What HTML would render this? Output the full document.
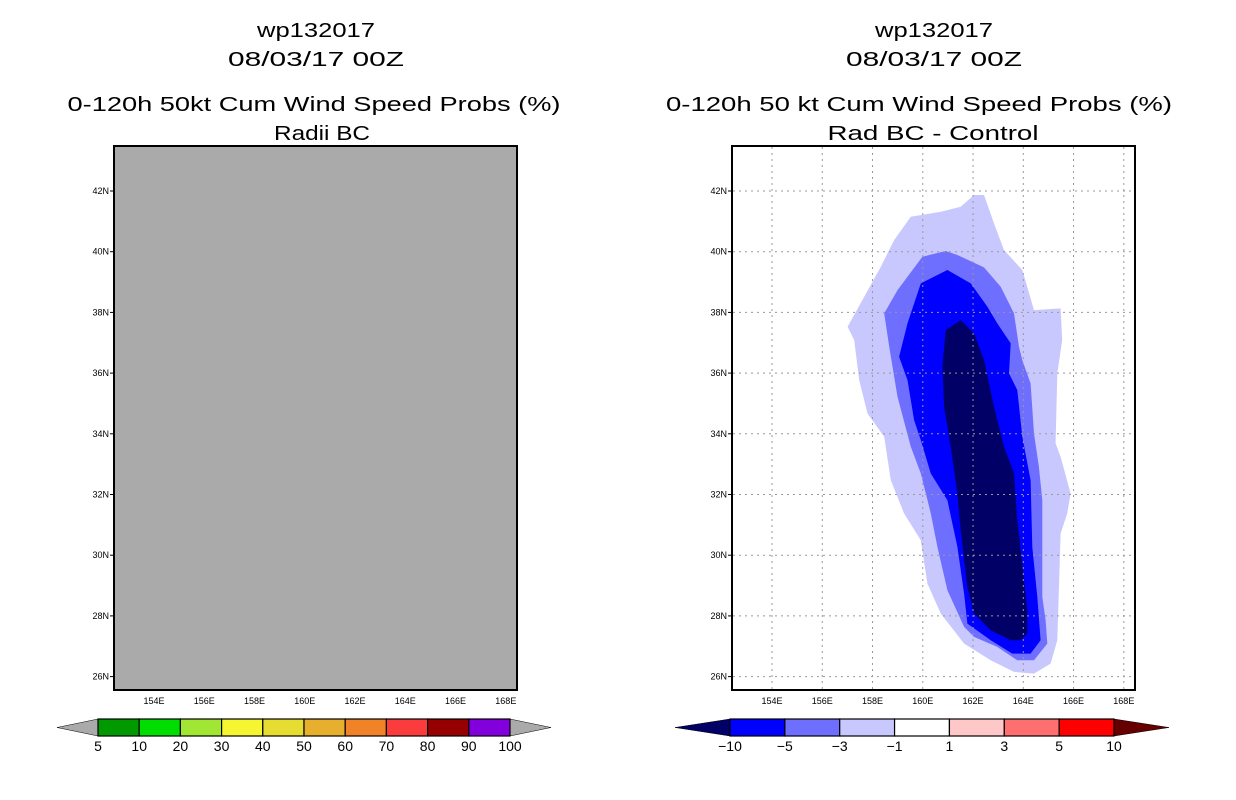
<!DOCTYPE html>
<html><head><meta charset="utf-8"><style>
body{margin:0;background:#fff;}
svg{display:block;font-family:"Liberation Sans",sans-serif;}
</style></head><body>
<svg id="chart" width="1236" height="800" viewBox="0 0 1236 800">
<rect width="1236" height="800" fill="#fff"/>
<g id="left"></g>
<g id="right"></g>
</svg>
<script>
const lonTicks=[154,156,158,160,162,164,166,168];
const latTicks=[26,28,30,32,34,36,38,40,42];
const leftLevels=["5","10","20","30","40","50","60","70","80","90","100"];
const leftColors=["#009900","#00dd00","#a0e632","#f5f532","#e6dc32","#e6af2d","#f08228","#fa3c3c","#960000","#8200dc"];
const rightLevels=["-10","-5","-3","-1","1","3","5","10"];
const rightColors=["#0000ff","#6f6fff","#c8c8ff","#ffffff","#ffc8c8","#ff6f6f","#ff0000"];
// contour polygons in [lon,lat]
const zl=(a)=>a.map(p=>[158+(p[0]-125)/75.5,42-(p[1]-33)/91]);
const contourLight=zl([[430,45],[460,45],[490,130],[520,210],[575,270],[610,390],[690,385],[695,480],[680,580],[675,790],[690,830],[720,940],[710,1000],[690,1060],[680,1380],[660,1450],[610,1480],[550,1475],[480,1440],[400,1390],[330,1300],[290,1210],[270,1080],[220,1000],[180,900],[160,770],[110,700],[85,600],[70,480],[50,440],[100,350],[150,260],[190,180],[240,110],[330,95],[390,80]]);
const contourMid=zl([[345,213],[380,225],[460,262],[510,320],[550,400],[565,500],[575,540],[600,610],[610,760],[625,860],[635,960],[635,1250],[645,1320],[650,1390],[610,1440],[560,1440],[500,1400],[430,1370],[400,1340],[350,1230],[320,1100],[300,1000],[270,880],[240,800],[200,650],[175,500],[160,400],[200,330],[275,230]]);
const contourBlue=zl([[350,270],[420,310],[470,380],[500,430],[540,490],[535,580],[560,630],[575,770],[600,900],[605,1100],[620,1250],[630,1380],[600,1420],[545,1420],[480,1380],[410,1330],[400,1240],[380,1100],[350,960],[300,880],[270,780],[250,720],[230,600],[205,530],[230,430],[270,310]]);
const contourDark=zl([[390,420],[430,460],[460,540],[490,680],[520,800],[550,880],[560,1020],[580,1200],[590,1290],[590,1360],[570,1380],[540,1380],[480,1350],[430,1300],[410,1220],[390,1050],[380,940],[360,800],[340,680],[335,560],[345,450]]);

const NS="http://www.w3.org/2000/svg";
function mk(parent,tag,attrs,text){const e=document.createElementNS(NS,tag);for(const k in attrs)e.setAttribute(k,attrs[k]);if(text!==undefined)e.textContent=text;parent.appendChild(e);return e;}
const PX=25.13, PY=30.35;
function panel(gid,x0,title3,title4,isRight){
  const g=document.getElementById(gid);
  const xs=lon=>x0+40+(lon-154)*PX;
  const ys=lat=>191+(42-lat)*PY;
  const cx=x0+202;
  const t1=mk(g,'text',{x:cx,y:37,'text-anchor':'middle','font-size':20,fill:'#000',textLength:118,lengthAdjust:'spacingAndGlyphs'},'wp132017');
  
  
  const t2=mk(g,'text',{x:cx,y:66,'text-anchor':'middle','font-size':20,fill:'#000',textLength:176,lengthAdjust:'spacingAndGlyphs'},'08/03/17 00Z');
  
  
  const t3=mk(g,'text',{x:cx+(isRight?-15:-2),y:111,'text-anchor':'middle','font-size':20,fill:'#000',textLength:isRight?506:493,lengthAdjust:'spacingAndGlyphs'},title3);
  
  
  const t4=mk(g,'text',{x:cx+(isRight?-1:6),y:140,'text-anchor':'middle','font-size':20,fill:'#000',textLength:isRight?211:96,lengthAdjust:'spacingAndGlyphs'},title4);
  
  
  const bg=mk(g,'rect',{x:x0,y:146,width:403,height:544,fill:isRight?'#fff':'#aaaaaa'});
  
  
  if(isRight){
    const cols=['#c8c8ff','#6f6fff','#0000ff','#000066'];
    [contourLight,contourMid,contourBlue,contourDark].forEach((poly,i)=>{
      const p=mk(g,'polygon',{points:poly.map(q=>xs(q[0]).toFixed(1)+','+ys(q[1]).toFixed(1)).join(' '),fill:cols[i]});
      
      
    });
    lonTicks.forEach(l=>{const ln=mk(g,'line',{x1:xs(l),x2:xs(l),y1:147,y2:689,stroke:'#999','stroke-width':1,'stroke-dasharray':'2,4'});
      
      });
    latTicks.forEach(l=>{const ln=mk(g,'line',{x1:x0+1,x2:x0+402,y1:ys(l),y2:ys(l),stroke:'#999','stroke-width':1,'stroke-dasharray':'2,4'});
      
      });
  }
  const fr=mk(g,'rect',{x:x0,y:146,width:403,height:544,fill:'none',stroke:'#000','stroke-width':2});
  
  
  lonTicks.forEach(l=>{const t=mk(g,'text',{x:xs(l),y:704,'text-anchor':'middle','font-size':9,fill:'#000'},l+'E');
    
    });
  latTicks.forEach(l=>{const t=mk(g,'text',{x:x0-5,y:ys(l)+3,'text-anchor':'end','font-size':9,fill:'#000'},l+'N');
    
    
    mk(g,'line',{x1:x0-4,x2:x0,y1:ys(l),y2:ys(l),stroke:'#000'});});
}
panel('left',114,'0-120h 50kt Cum Wind Speed Probs (%)','Radii BC',false);
panel('right',732,'0-120h 50 kt Cum Wind Speed Probs (%)','Rad BC - Control',true);

function colorbar(gid,xa,xb,colors,labels,leftTri,rightTri,triW){
  const g=document.getElementById(gid);
  const y0=719,h=17,w=(xb-xa)/colors.length;
  const l=mk(g,'polygon',{points:`${xa},${y0} ${xa},${y0+h} ${xa-triW},${y0+h/2}`,fill:leftTri,stroke:'#000','stroke-width':0.5});
  
  
  const r=mk(g,'polygon',{points:`${xb},${y0} ${xb},${y0+h} ${xb+triW},${y0+h/2}`,fill:rightTri,stroke:'#000','stroke-width':0.5});
  
  
  colors.forEach((c,i)=>{const s=mk(g,'rect',{x:xa+i*w,y:y0,width:w,height:h,fill:c,stroke:'#000','stroke-width':1.2});
    
    });
  labels.forEach((t,i)=>{const e=mk(g,'text',{x:xa+i*w,y:y0+32,'text-anchor':'middle','font-size':14,fill:'#000'},t.replace('-','\u2212'));
    
    });
}
colorbar('left',98,510,leftColors,leftLevels,'#aaaaaa','#aaaaaa',41);
colorbar('right',730,1114,rightColors,rightLevels,'#000066','#660000',55);
</script>
</body></html>
